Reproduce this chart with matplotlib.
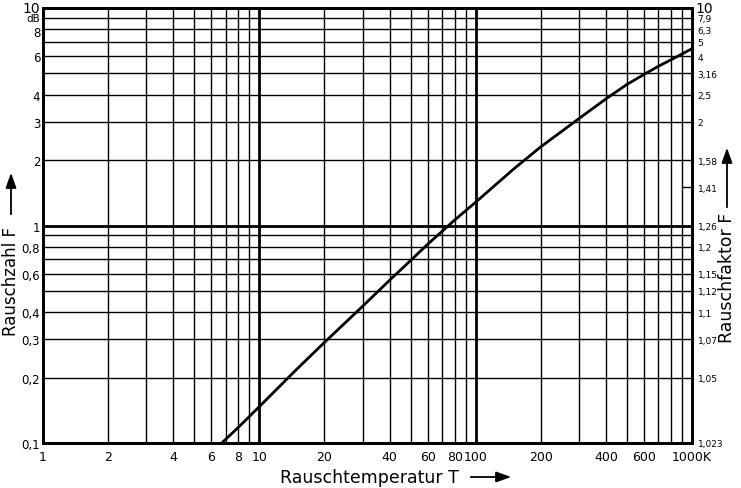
import matplotlib
matplotlib.use("Agg")
import matplotlib.pyplot as plt
import matplotlib.patches as mpatches
from matplotlib.ticker import FixedLocator

# ---- data ----
temp_K = [6.7, 8, 10, 15, 20, 30, 40, 50, 60, 80, 100, 150, 200, 250, 300, 400, 500,
          600, 700, 800, 900, 1000]
noise_dB = [0.10, 0.118, 0.147, 0.22, 0.29, 0.425, 0.56, 0.69, 0.82, 1.06, 1.28, 1.82,
            2.30, 2.71, 3.10, 3.82, 4.45, 4.95, 5.40, 5.78, 6.15, 6.50]

x_major_grid = [10, 100]
x_minor_grid = [2, 3, 4, 5, 6, 7, 8, 9, 20, 30, 40, 50, 60, 70, 80, 90,
                200, 300, 400, 500, 600, 700, 800, 900]
y_major_grid = [1]
y_minor_grid = [0.2, 0.3, 0.4, 0.5, 0.6, 0.7, 0.8, 0.9, 2, 3, 4, 5, 6, 7, 8, 9]

x_tick_pos = [1, 2, 4, 6, 8, 10, 20, 40, 60, 80, 100, 200, 400, 600, 1000]
x_tick_lab = ["1", "2", "4", "6", "8", "10", "20", "40", "60", "80", "100",
              "200", "400", "600", "1000K"]

y_tick_pos = [0.1, 0.2, 0.3, 0.4, 0.6, 0.8, 1, 2, 3, 4, 6]
y_tick_lab = ["0,1", "0,2", "0,3", "0,4", "0,6", "0,8", "1", "2", "3", "4", "6"]

r_tick_pos = [0.1, 0.2, 0.3, 0.4, 0.5, 0.6, 0.8, 1, 1.5, 2, 3, 4, 5, 6, 7, 8, 9]
r_tick_lab = ["1,023", "1,05", "1,07", "1,1", "1,12", "1,15", "1,2", "1,26", "1,41",
              "1,58", "2", "2,5", "3,16", "4", "5", "6,3", "7,9"]

W, H = 741, 489
plt.rcParams['font.family'] = ['DejaVu Sans']
fig = plt.figure(figsize=(W / 100, H / 100), dpi=100)

L, R, T, B = 43, 692, 9, 444
ax = fig.add_axes([L / W, (H - B) / H, (R - L) / W, (B - T) / H])
ax.set_xscale("log")
ax.set_yscale("log")
ax.set_xlim(1, 1000)
ax.set_ylim(0.1, 10)

for v in x_minor_grid:
    ax.axvline(v, color="black", lw=1.0, zorder=1)
for v in x_major_grid:
    ax.axvline(v, color="black", lw=2.0, zorder=1)
for v in y_minor_grid:
    ax.axhline(v, color="black", lw=1.0, zorder=1)
for v in y_major_grid:
    ax.axhline(v, color="black", lw=2.0, zorder=1)

ax.plot(temp_K, noise_dB, color="black", lw=2.0, zorder=3,
        solid_capstyle="butt", solid_joinstyle="round")

for s in ax.spines.values():
    s.set_linewidth(2.0)

ax.xaxis.set_major_locator(FixedLocator(x_tick_pos))
ax.set_xticklabels(x_tick_lab)
ax.xaxis.set_minor_locator(FixedLocator([]))
ax.tick_params(axis="x", length=0, pad=5, labelsize=9)

ax.yaxis.set_major_locator(FixedLocator(y_tick_pos))
ax.set_yticklabels(y_tick_lab)
ax.yaxis.set_minor_locator(FixedLocator([]))
ax.tick_params(axis="y", length=0, pad=2, labelsize=8.5)

# top-left "10", "dB" and "8"
ytr = ax.get_yaxis_transform()
ax.text(-0.004, 10, "10", transform=ytr, ha="right", va="center", fontsize=10)
ax.text(-0.004, 8.95, "dB", transform=ytr, ha="right", va="center", fontsize=7.5)
ax.text(-0.004, 7.75, "8", transform=ytr, ha="right", va="center", fontsize=8.5)

# right axis
ax2 = ax.twinx()
ax2.set_yscale("log")
ax2.set_ylim(0.1, 10)
ax2.yaxis.set_major_locator(FixedLocator(r_tick_pos))
ax2.set_yticklabels(r_tick_lab)
ax2.yaxis.set_minor_locator(FixedLocator([]))
ax2.tick_params(axis="y", length=0, pad=4, labelsize=6.5)
ax2.plot([0.985, 1.0], [1.5, 1.5], color="black", lw=1.0,
         transform=ax2.get_yaxis_transform())
ax2.text(1.006, 10, "10", transform=ax2.get_yaxis_transform(), ha="left", va="center",
         fontsize=10)
for s in ax2.spines.values():
    s.set_linewidth(2.0)

# axis labels with arrows
fig.text(280 / W, 1 - 478 / H, "Rauschtemperatur T", ha="left", va="center", fontsize=12.5)
fig.text(11 / W, 1 - 281 / H, "Rauschzahl F", rotation=90, ha="center", va="center",
         fontsize=12)
fig.text(727 / W, 1 - 278 / H, "Rauschfaktor F", rotation=90, ha="center", va="center",
         fontsize=12.5)

for (x0, y0), (x1, y1) in [((468, 478), (514, 478)),
                           ((11, 218), (11, 171)),
                           ((727, 211), (727, 146))]:
    fig.add_artist(mpatches.FancyArrowPatch(
        (x0 / W, 1 - y0 / H), (x1 / W, 1 - y1 / H), transform=fig.transFigure,
        arrowstyle="-|>,head_length=9,head_width=3.2", color="black", lw=1.3,
        mutation_scale=1))

fig.savefig("out.png", dpi=100)
